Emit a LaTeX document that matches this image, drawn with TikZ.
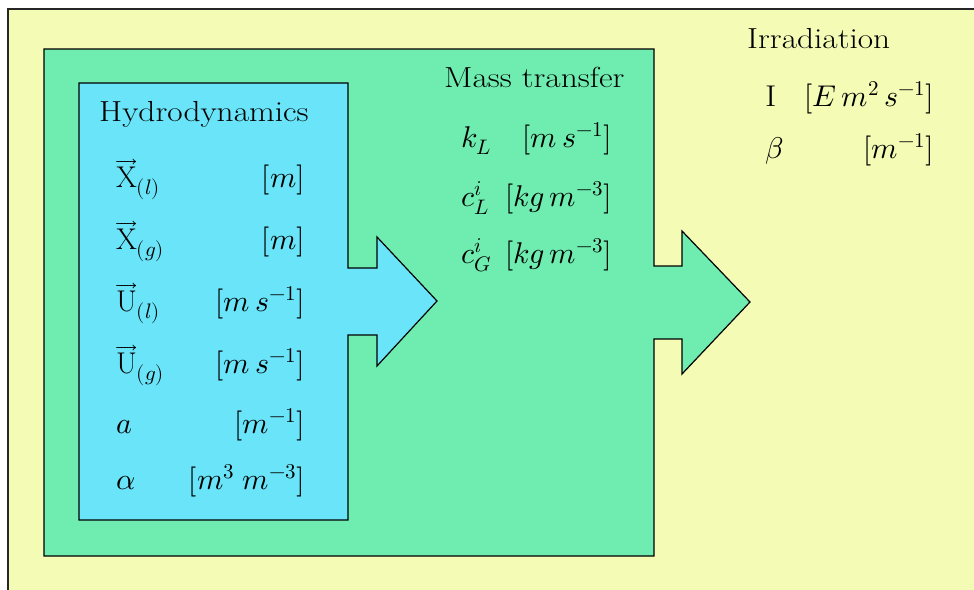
\documentclass[tikz,border=0pt]{standalone}
\usepackage{fontspec}
\usepackage{unicode-math}
\setmathfont{Latin Modern Math}
\newfontfamily\titlefont[FakeStretch=1.15]{Latin Modern Roman}
\definecolor{bgyellow}{RGB}{243,251,180}
\definecolor{mtgreen}{RGB}{111,237,176}
\definecolor{hdcyan}{RGB}{105,228,248}
\tikzset{
  lbl/.style={inner sep=0pt,font=\fontsize{30}{34}\selectfont},
  sym/.style={lbl,anchor=base west},
  unit/.style={lbl,anchor=base east},
  ttl/.style={inner sep=0pt,anchor=base west,font=\fontsize{29}{34}\titlefont},
  region/.style={draw=black,line width=1.2pt,line join=miter}
}
\begin{document}
\begin{tikzpicture}[x=1pt,y=-1pt]
\useasboundingbox (0,0) rectangle (974,589);
\clip (0,0) rectangle (974,589);
\fill[white] (0,0) rectangle (974,589);
% outer irradiation region
\draw[region,fill=bgyellow,draw=black!85] (8,9) rectangle (1000,620);
% mass transfer region with arrow
\draw[region,fill=mtgreen] (44,49) -- (654,49) -- (654,266) -- (682,266) -- (682,231)
  -- (750,302) -- (682,374) -- (682,339) -- (654,339) -- (654,556) -- (44,556) -- cycle;
% hydrodynamics region with arrow
\draw[region,fill=hdcyan] (79,83) -- (348,83) -- (348,268) -- (377,268) -- (377,237)
  -- (437,301) -- (377,366) -- (377,335) -- (348,335) -- (348,520) -- (79,520) -- cycle;
% titles
\node[ttl] (thd) at (99,121) {Hydrodynamics};
\node[ttl] (tmt) at (444,87) {Mass transfer};
\node[ttl] (tir) at (747,48) {Irradiation};
% hydrodynamics rows
\node[sym] (s1) at (116,187) {$\overrightarrow{\mathrm{X}}_{(l)}$};
\node[unit] (u1) at (305,187) {$[m]$};
\node[sym] (s2) at (116,249) {$\overrightarrow{\mathrm{X}}_{(g)}$};
\node[unit] (u2) at (305,249) {$[m]$};
\node[sym] (s3) at (116,311) {$\overrightarrow{\mathrm{U}}_{(l)}$};
\node[unit] (u3) at (305,311) {$[m\,s^{-1}]$};
\node[sym] (s4) at (116,373) {$\overrightarrow{\mathrm{U}}_{(g)}$};
\node[unit] (u4) at (305,373) {$[m\,s^{-1}]$};
\node[sym] (s5) at (116,433) {$a$};
\node[unit] (u5) at (305,433) {$[m^{-1}]$};
\node[sym] (s6) at (116,489) {$\alpha$};
\node[unit] (u6) at (305,489) {$[m^{3}\;m^{-3}]$};
% mass transfer rows
\node[sym] (m1) at (461,147) {$k_L$};
\node[unit] (mu1) at (612,147) {$[m\,s^{-1}]$};
\node[sym] (m2) at (461,206) {$c_L^i$};
\node[unit] (mu2) at (612,206) {$[kg\,m^{-3}]$};
\node[sym] (m3) at (461,263) {$c_G^i$};
\node[unit] (mu3) at (612,263) {$[kg\,m^{-3}]$};
% irradiation rows
\node[sym] (i1) at (765,106) {\titlefont I};
\node[unit] (iu1) at (934,106) {$[E\,m^{2}\,s^{-1}]$};
\node[sym] (i2) at (765,158) {$\beta$};
\node[unit] (iu2) at (934,158) {$[m^{-1}]$};
\end{tikzpicture}
\end{document}
